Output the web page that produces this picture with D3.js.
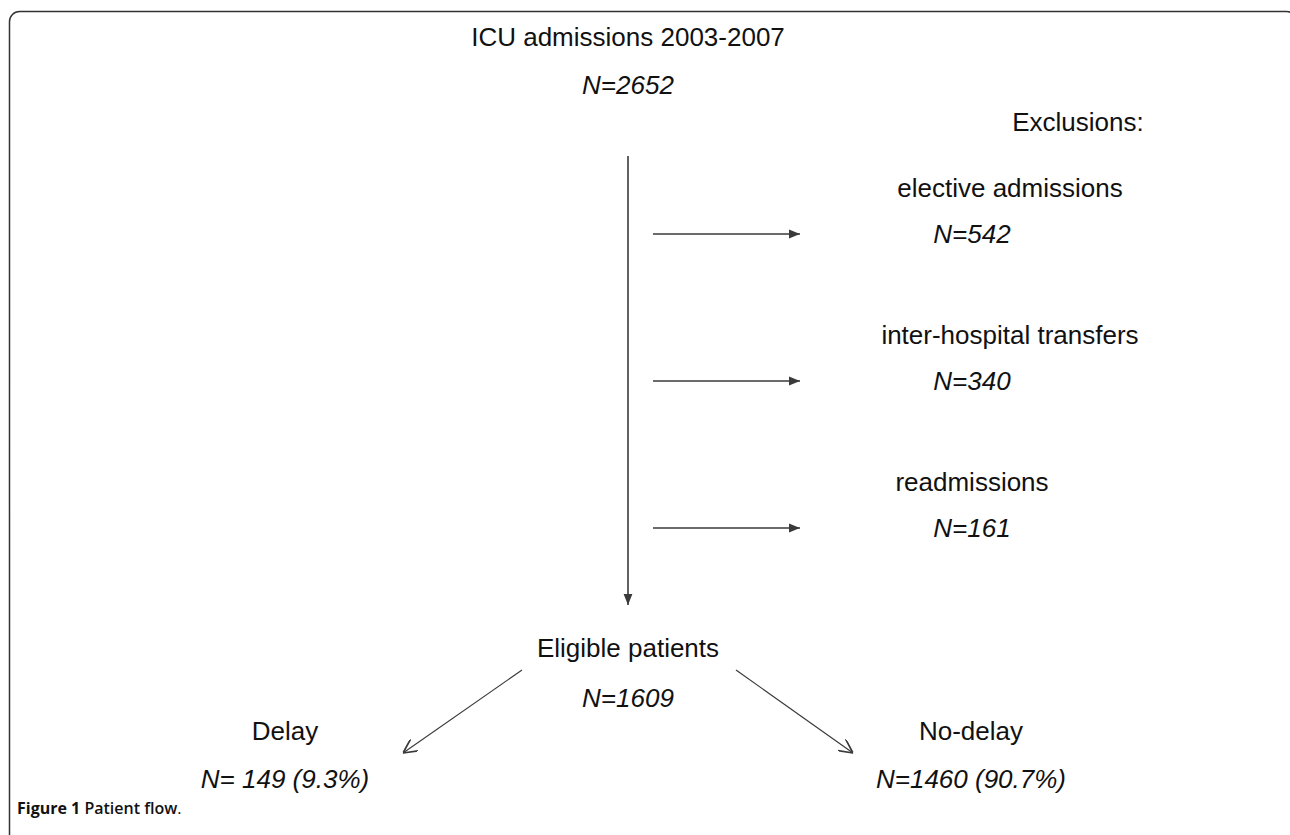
<!DOCTYPE html>
<html>
<head>
<meta charset="utf-8">
<style>
  body { margin: 0; background: #fff; }
  svg { display: block; }
  .lbl { font-family: "Liberation Sans", Arial, sans-serif; font-size: 26px; fill: #111; text-anchor: middle; }
  .num { font-style: italic; }
  .caption { font-family: "Open Sans", sans-serif; font-size: 16px; fill: #111; }
</style>
</head>
<body>
<svg></svg>
<script src="https://cdn.jsdelivr.net/npm/d3@7"></script>
<script>

  const width = 1290,
        height = 835

  // flow data
  const source = "ICU admissions 2003-2007"
  const sourceN = 2652
  const exclusionTitle = "Exclusions:"
  const exclusions = ["elective admissions", "inter-hospital transfers", "readmissions"]
  const exclusionN = [542, 340, 161]
  const eligible = "Eligible patients"
  const eligibleN = 1609
  const groups = ["Delay", "No-delay"]
  const groupN = [149, 1460]
  const groupPct = [9.3, 90.7]

  const lineColor = "#3a3a3a"
  const spineX = 628,
        exclX = 972

  // exclusion rows, evenly spaced
  const yExcl = d3.scalePoint()
    .domain(exclusions)
    .range([234, 528])

  // the two outcome groups
  const xGroup = d3.scalePoint()
    .domain(groups)
    .range([285, 971])

  const svg = d3.select("svg")
    .attr("width", width)
    .attr("height", height)

  const defs = svg.append("defs")
  defs.append("marker")
    .attr("id", "solid")
    .attr("viewBox", "0 0 10 10")
    .attr("refX", 10).attr("refY", 5)
    .attr("markerWidth", 11).attr("markerHeight", 11)
    .attr("markerUnits", "userSpaceOnUse")
    .attr("orient", "auto")
    .append("path")
    .attr("d", "M0,1 L10,5 L0,9 Z")
    .attr("fill", lineColor)
  defs.append("marker")
    .attr("id", "open")
    .attr("viewBox", "0 0 10 10")
    .attr("refX", 10).attr("refY", 5)
    .attr("markerWidth", 14).attr("markerHeight", 14)
    .attr("markerUnits", "userSpaceOnUse")
    .attr("orient", "auto")
    .append("path")
    .attr("d", "M0,0 L10,5 L0,10")
    .attr("fill", "none")
    .attr("stroke", lineColor)
    .attr("stroke-width", 1.2)

  // frame (rounded top-left, runs off the right / bottom)
  svg.append("rect")
    .attr("x", 9.5).attr("y", 11.5)
    .attr("width", 1287).attr("height", 900)
    .attr("rx", 10)
    .attr("fill", "none")
    .attr("stroke", "#333")
    .attr("stroke-width", 1.5)

  // top box
  svg.append("text").attr("class", "lbl")
    .attr("x", spineX).attr("y", 46)
    .text(source)
  svg.append("text").attr("class", "lbl num")
    .attr("x", spineX).attr("y", 94)
    .text(`N=${sourceN}`)

  svg.append("text").attr("class", "lbl")
    .attr("x", 1078).attr("y", 131)
    .text(exclusionTitle)

  // spine
  svg.append("line")
    .attr("x1", spineX).attr("x2", spineX)
    .attr("y1", 156).attr("y2", 605)
    .attr("stroke", lineColor)
    .attr("stroke-width", 1.6)
    .attr("marker-end", "url(#solid)")

  // exclusion arrows + labels
  const excl = svg.selectAll(".excl")
    .data(exclusions)
    .enter()
    .append("g")
    .attr("class", "excl")
    .attr("transform", d => `translate(0, ${yExcl(d)})`)

  excl.append("line")
    .attr("x1", 653).attr("x2", 800)
    .attr("stroke", lineColor)
    .attr("stroke-width", 1.6)
    .attr("marker-end", "url(#solid)")
  excl.append("text").attr("class", "lbl")
    .attr("x", (d, i) => i == 2 ? exclX : 1010)
    .attr("y", -37)
    .text(d => d)
  excl.append("text").attr("class", "lbl num")
    .attr("x", exclX)
    .attr("y", 9)
    .text((d, i) => `N=${exclusionN[i]}`)

  // eligible
  svg.append("text").attr("class", "lbl")
    .attr("x", spineX).attr("y", 657)
    .text(eligible)
  svg.append("text").attr("class", "lbl num")
    .attr("x", spineX).attr("y", 707)
    .text(`N=${eligibleN}`)

  // split arrows
  svg.selectAll(".split")
    .data(groups)
    .enter()
    .append("line")
    .attr("class", "split")
    .attr("x1", (d, i) => i == 0 ? 522 : 736)
    .attr("y1", 670)
    .attr("x2", (d, i) => i == 0 ? 403 : 853)
    .attr("y2", 753)
    .attr("stroke", lineColor)
    .attr("stroke-width", 1.2)
    .attr("marker-end", "url(#open)")

  const grp = svg.selectAll(".grp")
    .data(groups)
    .enter()
    .append("g")
    .attr("class", "grp")
    .attr("transform", d => `translate(${xGroup(d)}, 0)`)
  grp.append("text").attr("class", "lbl")
    .attr("y", 740)
    .text(d => d)
  grp.append("text").attr("class", "lbl num")
    .attr("y", 788)
    .text((d, i) => `N=${String(groupN[i]).padStart(4)} (${groupPct[i]}%)`)
    .attr("xml:space", "preserve")
    .style("white-space", "pre")

  // caption
  const cap = svg.append("text").attr("class", "caption")
    .attr("x", 17).attr("y", 814)
  cap.append("tspan").attr("font-weight", 700).text("Figure 1 ")
  cap.append("tspan").attr("font-weight", 600).text("Patient flow")
  cap.append("tspan").text(".")

</script>
</body>
</html>
